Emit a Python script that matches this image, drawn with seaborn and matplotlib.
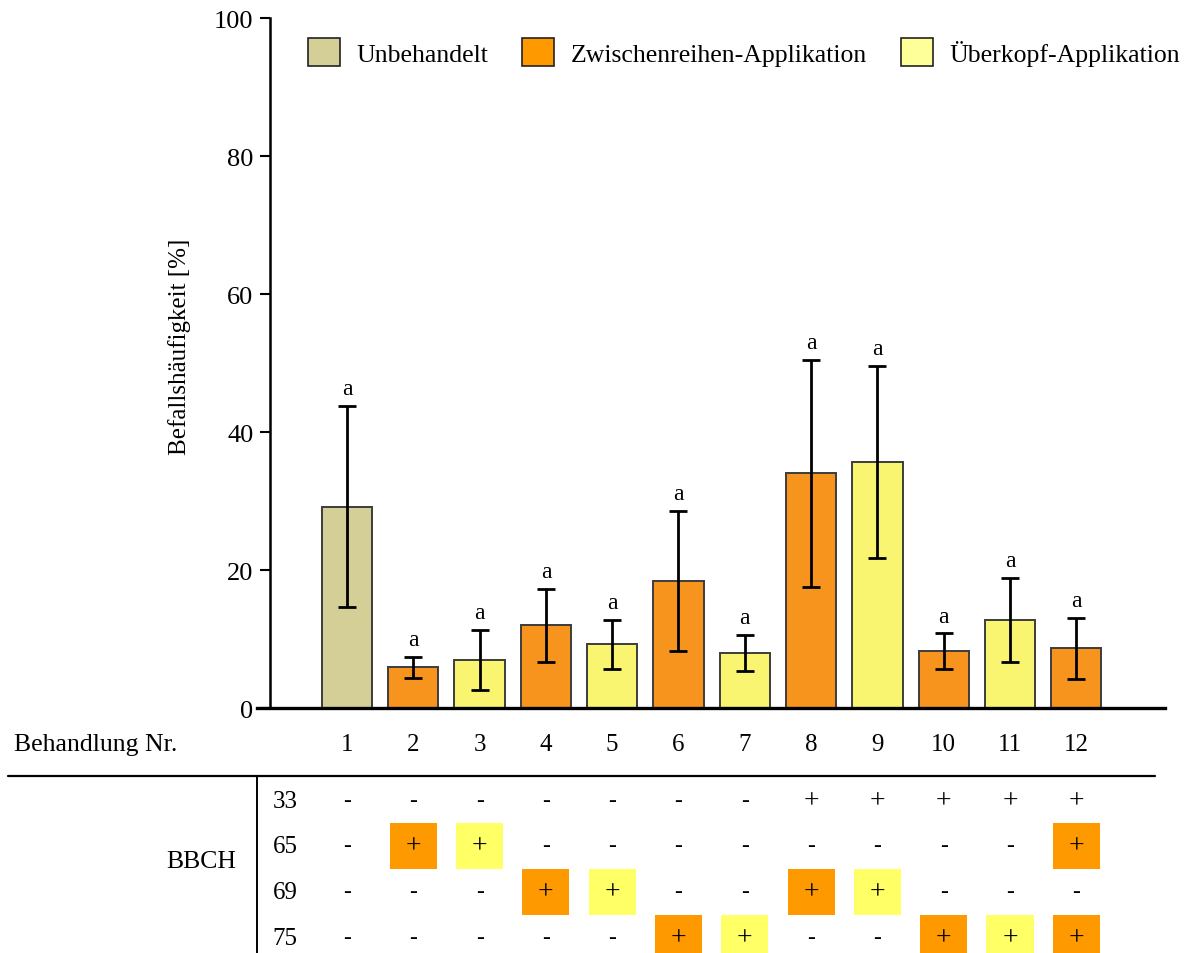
import numpy as np
import pandas as pd
import matplotlib
matplotlib.use("Agg")
import matplotlib.pyplot as plt
import seaborn as sns
from matplotlib.patches import Patch, Rectangle

# ---------------- data ----------------
treatments = ["1", "2", "3", "4", "5", "6", "7", "8", "9", "10", "11", "12"]
groups = ["Unbehandelt", "Zwischenreihen-Applikation", "Überkopf-Applikation",
          "Zwischenreihen-Applikation", "Überkopf-Applikation", "Zwischenreihen-Applikation",
          "Überkopf-Applikation", "Zwischenreihen-Applikation", "Überkopf-Applikation",
          "Zwischenreihen-Applikation", "Überkopf-Applikation", "Zwischenreihen-Applikation"]
means = [29.2, 5.9, 7.0, 12.0, 9.3, 18.4, 8.0, 34.0, 35.7, 8.2, 12.7, 8.7]
err_low = [14.7, 4.4, 2.6, 6.7, 5.6, 8.3, 5.4, 17.6, 21.8, 5.6, 6.7, 4.2]
err_high = [43.8, 7.4, 11.3, 17.2, 12.8, 28.6, 10.6, 50.4, 49.6, 10.8, 18.8, 13.1]
letters = ["a"] * 12

legend_labels = ["Unbehandelt", "Zwischenreihen-Applikation", "Überkopf-Applikation"]
bbch_stages = ["33", "65", "69", "75"]
# cell codes: '-' none, '+' plain plus, 'o' orange box plus, 'y' yellow box plus
bbch_table = [
    ["-", "-", "-", "-", "-", "-", "-", "+", "+", "+", "+", "+"],
    ["-", "o", "y", "-", "-", "-", "-", "-", "-", "-", "-", "o"],
    ["-", "-", "-", "o", "y", "-", "-", "o", "y", "-", "-", "-"],
    ["-", "-", "-", "-", "-", "o", "y", "-", "-", "o", "y", "o"],
]

# ---------------- style ----------------
sns.set_theme(style="white")
plt.rcParams["font.family"] = ["Liberation Serif", "DejaVu Serif"]
plt.rcParams["text.color"] = "black"
plt.rcParams["axes.labelcolor"] = "black"
plt.rcParams["ytick.color"] = "black"
plt.rcParams["xtick.color"] = "black"

bar_colors = {"Unbehandelt": "#D3CF97",
              "Zwischenreihen-Applikation": "#F7941E",
              "Überkopf-Applikation": "#F9F570"}
legend_colors = ["#D3CF97", "#FF9900", "#FFFF99"]
box_colors = {"o": "#FF9900", "y": "#FFFF66"}

W, H = 1188, 954
fig = plt.figure(figsize=(W / 100, H / 100), dpi=100)

# pixel -> index mapping used for both axes so columns line up
x0_px, step_px = 347.0, 66.3
def px2idx(p):
    return (p - x0_px) / step_px

ax_left, ax_right, ax_top, ax_bot = 257, 1165, 19, 709
ax = fig.add_axes([ax_left / W, (H - ax_bot) / H, (ax_right - ax_left) / W, (ax_bot - ax_top) / H])

df = pd.DataFrame({"Nr": treatments, "value": means, "group": groups})
sns.barplot(data=df, x="Nr", y="value", hue="group", order=treatments,
            hue_order=legend_labels, palette=bar_colors, dodge=False, width=0.76,
            saturation=1, edgecolor="#3c3c3c", linewidth=1.4, errorbar=None,
            legend=False, ax=ax)

m = np.array(means)
lo = m - np.array(err_low)
hi = np.array(err_high) - m
ax.errorbar(np.arange(len(treatments)), m, yerr=[lo, hi], fmt="none", ecolor="black",
            elinewidth=2.0, capsize=6.5, capthick=2.0, zorder=5)
for i, (t, l) in enumerate(zip(err_high, letters)):
    ax.text(i, t + 1.0, l, ha="center", va="bottom", fontsize=17, color="black")

ax.set_xlim(px2idx(ax_left), px2idx(ax_right))
ax.set_ylim(0, 100)
ax.set_yticks([0, 20, 40, 60, 80, 100])
ax.set_xticks([])
ax.set_xlabel("")
ax.set_ylabel("Befallshäufigkeit [%]", fontsize=18)
ax.yaxis.set_label_coords((191 - ax_left) / (ax_right - ax_left), (ax_bot - 347) / (ax_bot - ax_top))
ax.tick_params(axis="y", direction="out", length=7, width=1.5, labelsize=19, pad=5,
               left=True, color="black", labelcolor="black")
for s in ["top", "right"]:
    ax.spines[s].set_visible(False)
ax.spines["left"].set_position(("axes", (270 - ax_left) / (ax_right - ax_left)))
ax.spines["left"].set_linewidth(1.8)
ax.spines["left"].set_color("black")
ax.spines["bottom"].set_linewidth(2.4)
ax.spines["bottom"].set_color("black")

handles = [Patch(facecolor=c, edgecolor="#222222", linewidth=1.2) for c in legend_colors]
fig.legend(handles, legend_labels, loc="center right",
           bbox_to_anchor=(1180 / W, (H - 53) / H), ncol=3, frameon=False,
           fontsize=18.5, handlelength=1.25, handleheight=1.25, handletextpad=0.65,
           columnspacing=1.3, borderpad=0, borderaxespad=0)

# ---------------- table ----------------
tb = fig.add_axes([0, 0, 1, (H - ax_bot) / H])
tb.set_xlim(px2idx(0), px2idx(W))
tb.set_ylim(H, ax_bot)
tb.axis("off")

tb.text(px2idx(14), 745, "Behandlung Nr.", ha="left", va="center", fontsize=18.5)
for i, t in enumerate(treatments):
    tb.text(i, 745, t, ha="center", va="center", fontsize=18)

tb.plot([px2idx(8), px2idx(1155)], [777, 777], color="black", lw=1.6, clip_on=False)
tb.plot([px2idx(257), px2idx(257)], [777, H], color="black", lw=1.4, clip_on=False)

row_y = [802, 847, 893, 939]
tb.text(px2idx(201), 862, "BBCH", ha="center", va="center", fontsize=18.5)
for r, (stage, yc) in enumerate(zip(bbch_stages, row_y)):
    tb.text(px2idx(285), yc, stage, ha="center", va="center", fontsize=18)
    for i, code in enumerate(bbch_table[r]):
        if code in box_colors:
            tb.add_patch(Rectangle((i - 0.355, yc - 23.5), 0.71, 46.5,
                                   facecolor=box_colors[code], edgecolor="none", clip_on=False))
            sym = "+"
        else:
            sym = code
        fs = 20 if sym == "+" else 17
        tb.text(i, yc, sym, ha="center", va="center", fontsize=fs)

fig.savefig("out.png", dpi=100)
